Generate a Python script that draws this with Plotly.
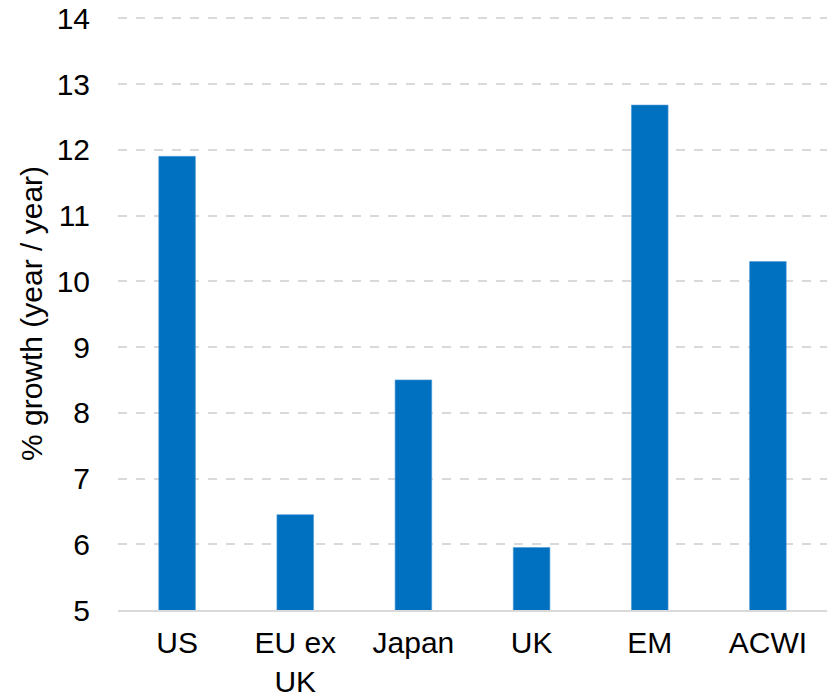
import plotly.graph_objects as go

categories = ["US", "EU ex<br>UK", "Japan", "UK", "EM", "ACWI"]
growth = [11.9, 6.45, 8.5, 5.95, 12.68, 10.3]
y_ticks = [5, 6, 7, 8, 9, 10, 11, 12, 13, 14]

fig = go.Figure(go.Bar(
    x=categories, y=growth,
    marker=dict(color="#0070C0", line=dict(color="#4a9ad6", width=0.6)),
))

fig.update_layout(
    width=834, height=697,
    margin=dict(l=118, r=7, t=17, b=87, autoexpand=False),
    paper_bgcolor="white", plot_bgcolor="white",
    bargap=0.69,
    showlegend=False,
    font=dict(family="Liberation Sans, Arial, sans-serif", size=30, color="#000000"),
)
fig.update_xaxes(
    showline=True, linecolor="#d9d9d9", linewidth=2,
    showgrid=False, ticks="", tickfont=dict(size=30),
    ticklabelstandoff=5, automargin=False,
)
fig.update_yaxes(
    range=[5, 14.02], tickvals=y_ticks,
    showgrid=True, gridcolor="#d9d9d9", gridwidth=1.5, griddash="dash",
    zeroline=False, showline=False, ticks="",
    tickfont=dict(size=30), ticklabelstandoff=27, automargin=False,
    ticklabeloverflow="allow",
    title=dict(text="% growth (year / year)", font=dict(size=30), standoff=5),
)

fig.write_html("out.html", config={"displayModeBar": False},
               post_script="document.body.style.margin='0';")
